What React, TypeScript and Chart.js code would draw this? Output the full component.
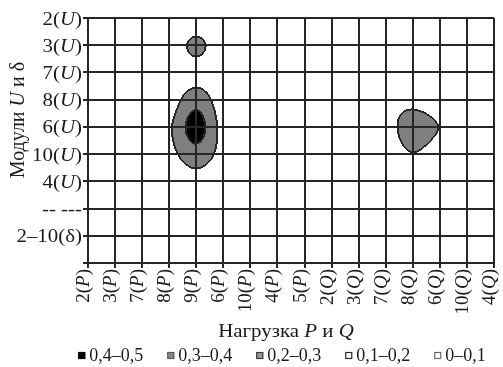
import React, { useEffect, useRef } from 'react';
import { Chart, registerables } from 'chart.js';

Chart.register(...registerables);

// Category labels
const xLabels = ['2(P)', '3(P)', '7(P)', '8(P)', '9(P)', '6(P)', '10(P)', '4(P)', '5(P)', '2(Q)', '3(Q)', '7(Q)', '8(Q)', '6(Q)', '10(Q)', '4(Q)'];
const yLabels = ['2(U)', '3(U)', '7(U)', '8(U)', '6(U)', '10(U)', '4(U)', '-- ---', '2–10(δ)', ''];

// Surface values at grid nodes (one array per row, columns follow xLabels)
const row2U = [0, 0, 0, 0, 0, 0, 0, 0, 0, 0, 0, 0, 0, 0, 0, 0];
const row3U = [0, 0, 0, 0, 0.26, 0, 0, 0, 0, 0, 0, 0, 0, 0, 0, 0];
const row7U = [0, 0, 0, 0, 0.09, 0, 0, 0, 0, 0, 0, 0, 0, 0, 0, 0];
const row8U = [0, 0, 0, 0.08, 0.32, 0.07, 0, 0, 0, 0, 0, 0.10, 0.12, 0.03, 0, 0];
const row6U = [0, 0, 0, 0.17, 0.48, 0.12, 0, 0, 0, 0, 0, 0.09, 0.32, 0.19, 0, 0];
const row10U = [0, 0, 0, 0.13, 0.32, 0.12, 0, 0, 0, 0, 0, 0.04, 0.19, 0.06, 0, 0];
const row4U = [0, 0, 0, 0.02, 0.10, 0.02, 0, 0, 0, 0, 0, 0, 0, 0, 0, 0];
const rowDash = [0, 0, 0, 0, 0, 0, 0, 0, 0, 0, 0, 0, 0, 0, 0, 0];
const row2_10d = [0, 0, 0, 0, 0, 0, 0, 0, 0, 0, 0, 0, 0, 0, 0, 0];
const rowEnd = [0, 0, 0, 0, 0, 0, 0, 0, 0, 0, 0, 0, 0, 0, 0, 0];
const zRows = [row2U, row3U, row7U, row8U, row6U, row10U, row4U, rowDash, row2_10d, rowEnd];

// Bands (legend)
const bandLabels = ['0,4–0,5', '0,3–0,4', '0,2–0,3', '0,1–0,2', '0–0,1'];
const bandLows = [0.4, 0.3, 0.2, 0.1, 0];

// Styles
const bandFills = ['#000000', '#7f7f7f', '#7f7f7f', '#ffffff', '#ffffff'];
const legendFills = ['#000000', '#8a8a8a', '#9a9a9a', '#ffffff', '#ffffff'];
const legendBorders = ['#000000', '#5a5a5a', '#3a3a3a', '#2a2a2a', '#6a6a6a'];
const LINE = '#262626';
const TEXT = '#1a1a1a';
const FONT = '"Liberation Serif", "Times New Roman", serif';

function hexToRgb(h: string) {
  const n = parseInt(h.slice(1), 16);
  return [(n >> 16) & 255, (n >> 8) & 255, n & 255];
}

function kernel(t: number) {
  const a = Math.abs(t);
  if (a < 1) return 1.5 * a * a * a - 2.5 * a * a + 1;
  if (a < 2) return -0.5 * a * a * a + 2.5 * a * a - 4 * a + 2;
  return 0;
}

function node(j: number, i: number) {
  const ny = zRows.length - 1;
  const nx = zRows[0].length - 1;
  const jj = Math.max(0, Math.min(ny, j));
  const ii = Math.max(0, Math.min(nx, i));
  return zRows[jj][ii];
}

// Catmull-Rom bicubic interpolation of the node grid
function interp(xv: number, yv: number) {
  const i0 = Math.floor(xv);
  const j0 = Math.floor(yv);
  let s = 0;
  for (let dj = -1; dj <= 2; dj++) {
    const wy = kernel(yv - (j0 + dj));
    if (wy === 0) continue;
    for (let di = -1; di <= 2; di++) {
      const wx = kernel(xv - (i0 + di));
      if (wx === 0) continue;
      s += wx * wy * node(j0 + dj, i0 + di);
    }
  }
  return s;
}

function bandOf(v: number) {
  for (let k = 0; k < bandLows.length; k++) if (v >= bandLows[k]) return k;
  return bandLows.length - 1;
}

function segs(t: string) {
  return t.split(/([UPQ])/).filter((s) => s.length > 0).map((s) => ({ s, it: /^[UPQ]$/.test(s) }));
}
function fontOf(size: number, it: boolean) {
  return `${it ? 'italic ' : ''}${size}px ${FONT}`;
}
function measureRich(ctx: CanvasRenderingContext2D, t: string, size: number) {
  let w = 0;
  for (const g of segs(t)) {
    ctx.font = fontOf(size, g.it);
    w += ctx.measureText(g.s).width;
  }
  return w;
}
function drawRich(ctx: CanvasRenderingContext2D, t: string, size: number, align: 'left' | 'right' | 'center') {
  const w = measureRich(ctx, t, size);
  let x = align === 'left' ? 0 : align === 'right' ? -w : -w / 2;
  ctx.textAlign = 'left';
  ctx.textBaseline = 'alphabetic';
  for (const g of segs(t)) {
    ctx.font = fontOf(size, g.it);
    ctx.fillText(g.s, x, 0);
    x += ctx.measureText(g.s).width;
  }
}

const heatPlugin = {
  id: 'heat',
  beforeDraw(chart: any) {
    const { ctx, chartArea: a, scales } = chart;
    const xs = scales.x, ys = scales.y;
    const L = Math.round(a.left), T = Math.round(a.top);
    const W = Math.round(a.right) - L, H = Math.round(a.bottom) - T;
    if (W <= 0 || H <= 0) return;
    const cls = new Uint8Array(W * H);
    for (let py = 0; py < H; py++) {
      const yv = ys.getValueForPixel(T + py + 0.5);
      for (let px = 0; px < W; px++) {
        const xv = xs.getValueForPixel(L + px + 0.5);
        cls[py * W + px] = bandOf(interp(xv, yv));
      }
    }
    const rgbs = bandFills.map(hexToRgb);
    const edge = hexToRgb(LINE);
    const img = ctx.createImageData(W, H);
    for (let py = 0; py < H; py++) {
      for (let px = 0; px < W; px++) {
        const k = py * W + px;
        const f = bandFills[cls[k]];
        let isEdge = false;
        if (px > 0 && bandFills[cls[k - 1]] !== f) isEdge = true;
        if (px < W - 1 && bandFills[cls[k + 1]] !== f) isEdge = true;
        if (py > 0 && bandFills[cls[k - W]] !== f) isEdge = true;
        if (py < H - 1 && bandFills[cls[k + W]] !== f) isEdge = true;
        const c = isEdge ? edge : rgbs[cls[k]];
        img.data[k * 4] = c[0];
        img.data[k * 4 + 1] = c[1];
        img.data[k * 4 + 2] = c[2];
        img.data[k * 4 + 3] = 255;
      }
    }
    ctx.putImageData(img, L, T);
  },
};

const textPlugin = {
  id: 'texts',
  afterDraw(chart: any) {
    const { ctx, chartArea: a, scales } = chart;
    const xs = scales.x, ys = scales.y;
    ctx.save();
    ctx.fillStyle = TEXT;
    // y tick labels
    yLabels.forEach((lab, i) => {
      if (!lab) return;
      const py = ys.getPixelForValue(i);
      ctx.save();
      ctx.translate(a.left - 6, py + 6.5);
      ctx.scale(1.1, 1);
      drawRich(ctx, lab, 19, 'right');
      ctx.restore();
    });
    // x tick labels, rotated
    xLabels.forEach((lab, i) => {
      const px = xs.getPixelForValue(i);
      ctx.save();
      ctx.translate(px + 1, a.bottom + 6);
      ctx.rotate(-Math.PI / 2);
      drawRich(ctx, lab, 19, 'right');
      ctx.restore();
    });
    // x title
    ctx.save();
    ctx.translate((a.left + a.right) / 2 - 5, 337);
    ctx.scale(1.1, 1);
    drawRich(ctx, 'Нагрузка P и Q', 19, 'center');
    ctx.restore();
    // y title
    ctx.save();
    ctx.translate(24, 120);
    ctx.rotate(-Math.PI / 2);
    drawRich(ctx, 'Модули U и δ', 20, 'center');
    ctx.restore();
    // legend
    const size = 18;
    const box = 7;
    const gapBox = 4;
    const gapItem = 24;
    ctx.font = fontOf(size, false);
    const widths = bandLabels.map((t) => box + gapBox + ctx.measureText(t).width);
    const total = widths.reduce((s, w) => s + w, 0) + gapItem * (widths.length - 1);
    let x = (a.left + a.right) / 2 - 9 - total / 2;
    const base = 361;
    bandLabels.forEach((t, k) => {
      ctx.fillStyle = legendFills[k];
      ctx.fillRect(x, base - 9, box, box);
      ctx.strokeStyle = legendBorders[k];
      ctx.lineWidth = 1.2;
      ctx.strokeRect(x + 0.5, base - 8.5, box - 1, box - 1);
      ctx.fillStyle = TEXT;
      ctx.font = fontOf(size, false);
      ctx.textAlign = 'left';
      ctx.fillText(t, x + box + gapBox, base);
      x += widths[k] + gapItem;
    });
    ctx.restore();
  },
};

export default function App() {
  const ref = useRef<HTMLCanvasElement | null>(null);
  useEffect(() => {
    document.body.style.margin = '0';
    const canvas = ref.current;
    if (!canvas) return;
    const chart = new Chart(canvas, {
      type: 'scatter',
      data: { datasets: [{ data: [], showLine: false }] },
      options: {
        animation: false,
        responsive: false,
        devicePixelRatio: 1,
        layout: { padding: { left: 83, top: 18, right: 9, bottom: 99 } },
        plugins: { legend: { display: false }, tooltip: { enabled: false } },
        scales: {
          x: {
            type: 'linear',
            min: 0,
            max: xLabels.length - 1,
            ticks: { display: false, stepSize: 1 },
            grid: { color: LINE, lineWidth: 2, drawTicks: true, tickLength: 5, tickColor: LINE },
            border: { color: LINE, width: 2 },
          },
          y: {
            type: 'linear',
            reverse: true,
            min: 0,
            max: yLabels.length - 1,
            ticks: { display: false, stepSize: 1 },
            grid: { color: LINE, lineWidth: 2, drawTicks: true, tickLength: 5, tickColor: LINE },
            border: { color: LINE, width: 2 },
          },
        },
      },
      plugins: [heatPlugin, textPlugin],
    } as any);
    return () => chart.destroy();
  }, []);
  return (
    <div style={{ width: 503, height: 367 }}>
      <canvas ref={ref} width={503} height={367} style={{ display: 'block' }} />
    </div>
  );
}
